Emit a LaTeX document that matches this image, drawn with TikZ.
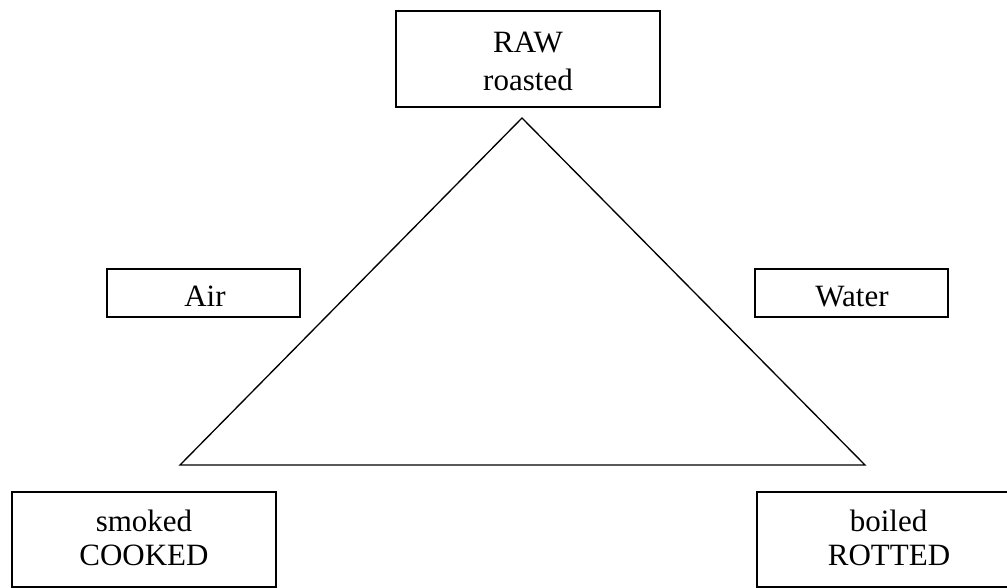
\documentclass[tikz,border=0pt]{standalone}
\usepackage{fontspec}
\setmainfont{Liberation Serif}
\begin{document}
\begin{tikzpicture}[x=0.75pt,y=-0.75pt,
  box/.style={draw=black,line width=1.3pt,rectangle,inner sep=0pt},
  lbl/.style={anchor=base,inner sep=0pt,font=\fontsize{23.25}{28}\selectfont},
  tri/.style={draw=black,line width=1pt,line join=miter}]
\useasboundingbox (0,0) rectangle (1007,587);
\clip (0,0) rectangle (1007,587);
% boxes
\node[box,minimum width=198pt,minimum height=72pt] (rawbox) at (528,59) {};
\node[box,minimum width=144.75pt,minimum height=36pt] (airbox) at (203.5,293) {};
\node[box,minimum width=144.75pt,minimum height=36pt] (waterbox) at (851.5,293) {};
\node[box,minimum width=198pt,minimum height=71.25pt] (cookedbox) at (144,539.5) {};
\node[box,minimum width=198pt,minimum height=71.25pt] (rottedbox) at (889,539.5) {};
% texts
\node[lbl] (raw) at (528,52) {RAW};
\node[lbl] (roasted) at (528,90) {roasted};
\node[lbl] (air) at (205,306) {Air};
\node[lbl] (water) at (852,306) {Water};
\node[lbl] (smoked) at (144,531) {smoked};
\node[lbl] (cooked) at (144,565) {COOKED};
\node[lbl] (boiled) at (888.5,531) {boiled};
\node[lbl] (rotted) at (889,565) {ROTTED};
% triangle
\coordinate (apex) at (522,118);
\coordinate (bl) at (180,465);
\coordinate (br) at (865,465);
\draw[tri] (apex) -- (bl) -- (br) -- cycle;
\end{tikzpicture}
\end{document}
